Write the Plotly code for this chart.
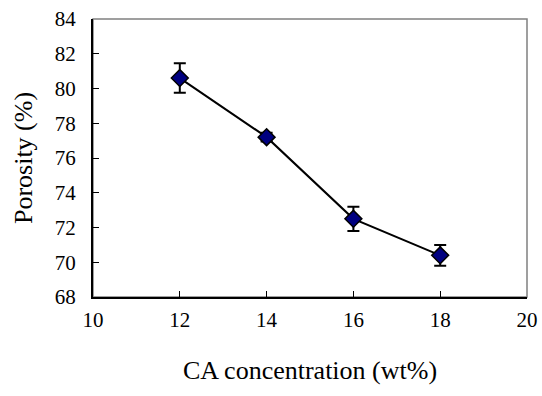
import plotly.graph_objects as go

ca_conc = [12, 14, 16, 18]
porosity = [80.6, 77.2, 72.5, 70.4]
porosity_err = [0.85, 0.25, 0.7, 0.6]

x_ticks = [10, 12, 14, 16, 18, 20]
y_ticks = [68, 70, 72, 74, 76, 78, 80, 82, 84]

font_family = "Liberation Serif, Times New Roman, serif"

fig = go.Figure()
fig.add_trace(go.Scatter(
    x=ca_conc, y=porosity,
    mode="lines+markers",
    line=dict(color="black", width=2),
    marker=dict(symbol="diamond", size=13, color="#000080",
                line=dict(color="black", width=1.5)),
    error_y=dict(type="data", array=porosity_err, visible=True,
                 color="black", thickness=2, width=6),
    showlegend=False,
))

# grey outer frame (top/right)
fig.add_shape(type="rect", xref="paper", yref="paper", x0=0, y0=0, x1=1, y1=1,
              line=dict(color="#808080", width=1.5), layer="below")

fig.update_layout(
    width=542, height=396,
    margin=dict(l=93, r=15, t=19, b=99),
    plot_bgcolor="white", paper_bgcolor="white",
    font=dict(family=font_family, color="black", size=21),
    xaxis=dict(
        range=[10, 20], tickvals=x_ticks, ticktext=[str(v) for v in x_ticks],
        ticks="inside", ticklen=6, tickwidth=1, tickcolor="black",
        showline=True, linecolor="black", linewidth=2,
        showgrid=False, zeroline=False, automargin=False,
        tickfont=dict(size=21),
        ticklabelstandoff=3,
        title=dict(text="CA concentration (wt%)", font=dict(size=26), standoff=30),
    ),
    yaxis=dict(
        range=[68, 84], tickvals=y_ticks, ticktext=[str(v) for v in y_ticks],
        ticks="inside", ticklen=6, tickwidth=1, tickcolor="black",
        showline=True, linecolor="black", linewidth=2,
        showgrid=False, zeroline=False, automargin=False,
        tickfont=dict(size=21),
        ticklabelstandoff=11,
        title=dict(text="Porosity (%)", font=dict(size=26), standoff=15),
    ),
)

fig.write_html("out.html")
